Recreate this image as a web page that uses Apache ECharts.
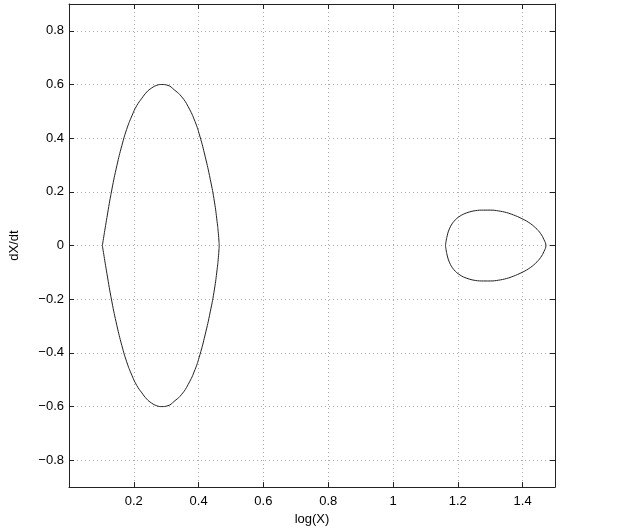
<!DOCTYPE html>
<html>
<head>
<meta charset="utf-8">
<script src="https://cdn.jsdelivr.net/npm/echarts@6/dist/echarts.min.js"></script>
<style>
  html, body { margin: 0; padding: 0; background: #fff; }
  #chart { width: 627px; height: 531px; }
</style>
</head>
<body>
<div id="chart"></div>
<script>
// phase portrait points: [log(X), dX/dt]
var leftLoop = [
  [0.103, 0], [0.117, 0.104], [0.132, 0.207], [0.148, 0.299], [0.163, 0.372],
  [0.178, 0.433], [0.194, 0.483], [0.209, 0.521], [0.225, 0.549], [0.240, 0.572],
  [0.255, 0.587], [0.271, 0.597], [0.286, 0.600], [0.302, 0.598], [0.327, 0.578],
  [0.348, 0.554], [0.368, 0.517], [0.389, 0.462], [0.404, 0.407], [0.420, 0.333],
  [0.436, 0.247], [0.449, 0.162], [0.457, 0.090], [0.461, 0.045], [0.4628, 0.016],
  [0.4635, 0],
  [0.4628, -0.016], [0.461, -0.045], [0.457, -0.090], [0.449, -0.162], [0.436, -0.247],
  [0.420, -0.333], [0.404, -0.407], [0.389, -0.462], [0.368, -0.517], [0.348, -0.554],
  [0.327, -0.578], [0.302, -0.598], [0.286, -0.600], [0.271, -0.597], [0.255, -0.587],
  [0.240, -0.572], [0.225, -0.549], [0.209, -0.521], [0.194, -0.483], [0.178, -0.433],
  [0.163, -0.372], [0.148, -0.299], [0.132, -0.207], [0.117, -0.104], [0.103, 0]
]

var rightLoop = [
  [1.162, 0], [1.166, 0.03], [1.174, 0.062], [1.188, 0.09], [1.207, 0.110],
  [1.228, 0.122], [1.254, 0.130], [1.280, 0.132], [1.302, 0.132], [1.326, 0.129],
  [1.350, 0.123], [1.372, 0.114], [1.395, 0.102], [1.419, 0.086], [1.440, 0.066],
  [1.456, 0.044], [1.466, 0.022], [1.472, 0],
  [1.466, -0.022], [1.456, -0.044], [1.440, -0.066], [1.419, -0.086], [1.395, -0.102],
  [1.372, -0.114], [1.350, -0.123], [1.326, -0.129], [1.302, -0.132], [1.280, -0.132],
  [1.254, -0.130], [1.228, -0.122], [1.207, -0.110], [1.188, -0.09], [1.174, -0.062],
  [1.166, -0.03], [1.162, 0]
]

var xRange = [0, 1.5]
var yRange = [-0.9, 0.9]

var chart = echarts.init(document.getElementById('chart'))

var font = 'Liberation Sans, Arial, Helvetica, sans-serif'
var frameColor = '#222'
var gridLine = { show: true, lineStyle: { color: '#aaa', type: [1, 3], width: 1 } }

function minus(v) {
  return String(v).replace('-', '\u2212')
}

chart.setOption({
  animation: false,
  backgroundColor: '#fff',
  grid: { left: 67, right: 72, top: 4, bottom: 37, containLabel: false },
  xAxis: [{
    type: 'value',
    min: xRange[0],
    max: xRange[1],
    interval: 0.2,
    name: 'log(X)',
    nameLocation: 'middle',
    nameGap: 25,
    nameTextStyle: { color: '#000', fontSize: 13, fontFamily: font },
    axisLine: { show: true, onZero: false, lineStyle: { color: frameColor, width: 1 } },
    axisTick: { show: true, inside: true, length: 5, lineStyle: { color: frameColor } },
    axisLabel: { color: '#000', fontSize: 13, fontFamily: font, margin: 8, showMinLabel: false, showMaxLabel: false, formatter: minus },
    splitLine: gridLine
  }, {
    type: 'value',
    position: 'top',
    min: xRange[0],
    max: xRange[1],
    interval: 0.2,
    axisLine: { show: true, onZero: false, lineStyle: { color: frameColor, width: 1 } },
    axisTick: { show: true, inside: true, length: 5, lineStyle: { color: frameColor } },
    axisLabel: { show: false },
    splitLine: { show: false }
  }],
  yAxis: [{
    type: 'value',
    min: yRange[0],
    max: yRange[1],
    splitNumber: 9,
    name: 'dX/dt',
    nameLocation: 'middle',
    nameGap: 48,
    nameTextStyle: { color: '#000', fontSize: 13, fontFamily: font },
    axisLine: { show: true, onZero: false, lineStyle: { color: frameColor, width: 1 } },
    axisTick: { show: true, inside: true, length: 5, lineStyle: { color: frameColor } },
    axisLabel: { color: '#000', fontSize: 13, fontFamily: font, margin: 5, showMinLabel: false, showMaxLabel: false, formatter: minus },
    splitLine: gridLine
  }, {
    type: 'value',
    position: 'right',
    min: yRange[0],
    max: yRange[1],
    splitNumber: 9,
    axisLine: { show: true, onZero: false, lineStyle: { color: frameColor, width: 1 } },
    axisTick: { show: true, inside: true, length: 5, lineStyle: { color: frameColor } },
    axisLabel: { show: false },
    splitLine: { show: false }
  }],
  series: [{
    type: 'line',
    data: leftLoop,
    showSymbol: false,
    smooth: 0.5,
    lineStyle: { color: '#222', width: 1 }
  }, {
    type: 'line',
    data: rightLoop,
    showSymbol: false,
    smooth: 0.4,
    lineStyle: { color: '#222', width: 1 }
  }]
})
</script>
</body>
</html>
